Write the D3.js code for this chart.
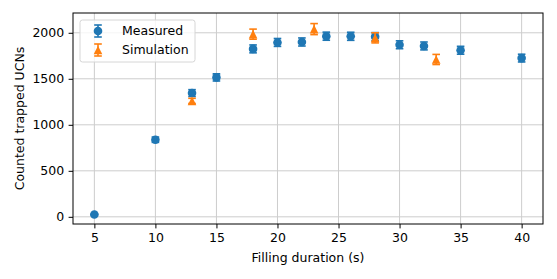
<!DOCTYPE html>
<html><head><meta charset="utf-8">
<script src="https://cdn.jsdelivr.net/npm/d3@7"></script>
<style>body{margin:0;background:#fff}svg{font-family:"DejaVu Sans",sans-serif}</style>
</head><body><svg id="c" width="557" height="279"></svg>
<script>
const measuredX = [5,10,13,15,18,20,22,24,26,28,30,32,35,40];
const measuredY = [25,838,1345,1515,1825,1895,1900,1963,1962,1958,1870,1857,1810,1725];
const measuredErr = [5,29,37,39,43,43,44,44,44,44,43,43,43,42];
const simX = [13,18,23,28,33];
const simY = [1260,1985,2040,1945,1710];
const simErr = [28,55,60,55,55];
const xTicks = [5,10,15,20,25,30,35,40];
const yTicks = [0,500,1000,1500,2000];
const seriesNames = ["Measured","Simulation"];
const colors = ["#1f77b4","#ff7f0e"];

const svg = d3.select("#c");
const L=73, R=543, T=13, B=224;
const x = d3.scaleLinear().domain([3.25,41.75]).range([L,R]);
const y = d3.scaleLinear().domain([-78,2215]).range([B,T]);

// grid
const g = svg.append("g");
g.selectAll(".gx").data(xTicks).join("line").attr("x1",d=>x(d)).attr("x2",d=>x(d)).attr("y1",T).attr("y2",B).attr("stroke","#cdcdcd").attr("stroke-width",1);
g.selectAll(".gy").data(yTicks).join("line").attr("y1",d=>y(d)).attr("y2",d=>y(d)).attr("x1",L).attr("x2",R).attr("stroke","#cdcdcd").attr("stroke-width",1);

// axes
const xa = svg.append("g").attr("transform",`translate(0,${B})`).call(d3.axisBottom(x).tickValues(xTicks).tickSize(4.4).tickPadding(4.4).tickFormat(d3.format("d")));
const ya = svg.append("g").attr("transform",`translate(${L},0)`).call(d3.axisLeft(y).tickValues(yTicks).tickSize(4.4).tickPadding(4.4).tickFormat(d3.format("d")));
[xa,ya].forEach(a=>{a.select(".domain").remove();a.selectAll("text").attr("font-size","12.5px").attr("fill","#000").attr("font-family","DejaVu Sans");a.selectAll("line").attr("stroke","#000");});
svg.append("rect").attr("x",L).attr("y",T).attr("width",R-L).attr("height",B-T).attr("fill","none").attr("stroke","#000").attr("stroke-width",1);

function errbars(xs,ys,es,color){
  const gg = svg.append("g").attr("stroke",color).attr("stroke-width",1.6);
  xs.forEach((xv,i)=>{
    const cx=x(xv), y1=y(ys[i]-es[i]), y2=y(ys[i]+es[i]);
    gg.append("line").attr("x1",cx).attr("x2",cx).attr("y1",y1).attr("y2",y2);
    gg.append("line").attr("x1",cx-3.8).attr("x2",cx+3.8).attr("y1",y1).attr("y2",y1);
    gg.append("line").attr("x1",cx-3.8).attr("x2",cx+3.8).attr("y1",y2).attr("y2",y2);
  });
}
const tri = s=>`M0,${-s/2}L${s/2},${s/2}L${-s/2},${s/2}Z`;

errbars(measuredX,measuredY,measuredErr,colors[0]);
svg.append("g").selectAll("circle").data(measuredX).join("circle").attr("cx",d=>x(d)).attr("cy",(d,i)=>y(measuredY[i])).attr("r",4.3).attr("fill",colors[0]);
errbars(simX,simY,simErr,colors[1]);
svg.append("g").selectAll("path").data(simX).join("path").attr("transform",(d,i)=>`translate(${x(d)},${y(simY[i])})`).attr("d",tri(8.6)).attr("fill",colors[1]);

// legend
const lg = svg.append("g");
lg.append("rect").attr("x",80).attr("y",20).attr("width",115).attr("height",42).attr("rx",2.5).attr("fill","#fff").attr("fill-opacity",0.8).attr("stroke","#d6d6d6").attr("stroke-width",1);
seriesNames.forEach((n,i)=>{
  const cy = 31 + i*19, cx = 98;
  const c = colors[i];
  lg.append("line").attr("x1",cx).attr("x2",cx).attr("y1",cy-6).attr("y2",cy+6).attr("stroke",c).attr("stroke-width",1.6);
  lg.append("line").attr("x1",cx-3.8).attr("x2",cx+3.8).attr("y1",cy-6).attr("y2",cy-6).attr("stroke",c).attr("stroke-width",1.6);
  lg.append("line").attr("x1",cx-3.8).attr("x2",cx+3.8).attr("y1",cy+6).attr("y2",cy+6).attr("stroke",c).attr("stroke-width",1.6);
  if(i===0) lg.append("circle").attr("cx",cx).attr("cy",cy).attr("r",4.3).attr("fill",c);
  else lg.append("path").attr("transform",`translate(${cx},${cy})`).attr("d",tri(8.6)).attr("fill",c);
  lg.append("text").attr("x",122).attr("y",cy).attr("dy","0.35em").attr("font-size","12.5px").text(n);
});

// labels
svg.append("text").attr("x",(L+R)/2).attr("y",262).attr("text-anchor","middle").attr("font-size","12.5px").text("Filling duration (s)");
svg.append("text").attr("transform",`translate(24,${(T+B)/2}) rotate(-90)`).attr("text-anchor","middle").attr("font-size","12.5px").text("Counted trapped UCNs");
</script></body></html>
